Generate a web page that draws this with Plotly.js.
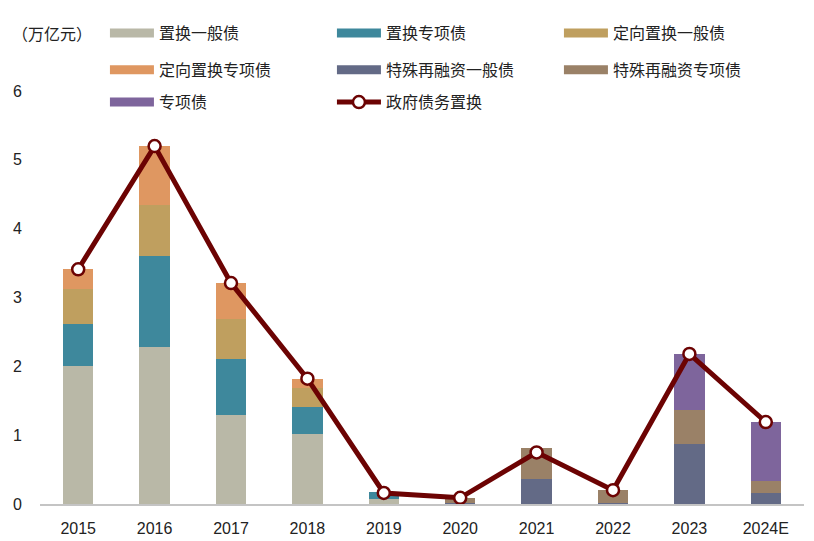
<!DOCTYPE html>
<html>
<head>
<meta charset="utf-8">
<script src="https://cdn.plot.ly/plotly-3.0.1.min.js"></script>
<style>html,body{margin:0;padding:0;background:#fff;}#chart{width:814px;height:541px;}</style>
</head>
<body>
<div id="chart"></div>
<script>
// Categories
const years = ['2015','2016','2017','2018','2019','2020','2021','2022','2023','2024E'];
// Stacked series (万亿元)
const zhihuanYiban      = [2.01, 2.28, 1.29, 1.02, 0.07, 0, 0, 0, 0, 0];          // 置换一般债
const zhihuanZhuanxiang = [0.60, 1.32, 0.82, 0.39, 0.10, 0, 0, 0, 0, 0];          // 置换专项债
const dingxiangYiban     = [0.51, 0.74, 0.58, 0.28, 0, 0, 0, 0, 0, 0];            // 定向置换一般债
const dingxiangZhuanxiang= [0.29, 0.86, 0.52, 0.13, 0, 0, 0, 0, 0, 0];            // 定向置换专项债
const teshuYiban        = [0, 0, 0, 0, 0, 0.02, 0.36, 0.02, 0.87, 0.16];          // 特殊再融资一般债
const teshuZhuanxiang   = [0, 0, 0, 0, 0, 0.07, 0.45, 0.18, 0.49, 0.17];          // 特殊再融资专项债
const zhuanxiangZhai    = [0, 0, 0, 0, 0, 0, 0, 0, 0.82, 0.86];                   // 专项债
// Line series
const zhengfuZhiwu      = [3.41, 5.20, 3.21, 1.82, 0.16, 0.09, 0.75, 0.20, 2.18, 1.19]; // 政府债务置换

const barSeries = [
  {name:'置换一般债', y:zhihuanYiban, color:'#b9b8a7', legend:'legend'},
  {name:'置换专项债', y:zhihuanZhuanxiang, color:'#3e889c', legend:'legend'},
  {name:'定向置换一般债', y:dingxiangYiban, color:'#bf9f5f', legend:'legend'},
  {name:'定向置换专项债', y:dingxiangZhuanxiang, color:'#df9761', legend:'legend2'},
  {name:'特殊再融资一般债', y:teshuYiban, color:'#636a86', legend:'legend2'},
  {name:'特殊再融资专项债', y:teshuZhuanxiang, color:'#9a8167', legend:'legend2'},
  {name:'专项债', y:zhuanxiangZhai, color:'#7e659c', legend:'legend3'}
];
const lineColor = '#6c0303';

const traces = [];
barSeries.forEach(s => {
  traces.push({type:'bar', x:years, y:s.y, name:s.name, showlegend:false,
    marker:{color:s.color, line:{width:0}}, width:0.4, hoverinfo:'x+y+name'});
});
// legend-only swatches
barSeries.forEach(s => {
  traces.push({type:'scatter', mode:'lines', x:[years[0]], y:[null], name:s.name,
    legend:s.legend, line:{color:s.color, width:9}, hoverinfo:'skip'});
});
traces.push({type:'scatter', mode:'lines+markers', x:years, y:zhengfuZhiwu, name:'政府债务置换',
  legend:'legend3', line:{color:lineColor, width:5},
  marker:{symbol:'circle', size:12, color:'#ffffff', line:{color:lineColor, width:2.5}}});

const cjk = '"Noto Sans CJK SC", "Noto Sans", sans-serif';
const latin = '"Liberation Sans", Arial, sans-serif';
const legBase = {orientation:'h', xanchor:'left', yanchor:'middle', x:0.085,
  entrywidth:168, entrywidthmode:'pixels', itemwidth:44, bgcolor:'rgba(0,0,0,0)',
  font:{family:cjk, size:16, color:'#222'}, traceorder:'normal'};

const layout = {
  width:814, height:541,
  margin:{l:40, r:10, t:91, b:37},
  paper_bgcolor:'#ffffff', plot_bgcolor:'#ffffff',
  barmode:'stack', showlegend:true,
  xaxis:{type:'category', range:[-0.5, 9.5], showgrid:false, zeroline:false,
    showline:true, linecolor:'#c4c4c4', linewidth:2, ticks:'',
    tickfont:{family:latin, size:16, color:'#222'}, ticklabelstandoff:9},
  yaxis:{range:[0,6], dtick:1, showgrid:false, zeroline:false, showline:false, ticks:'',
    tickfont:{family:latin, size:16, color:'#222'}, ticklabelstandoff:17},
  legend: Object.assign({}, legBase, {y:1.140}),
  legend2: Object.assign({}, legBase, {y:1.051}),
  legend3: Object.assign({}, legBase, {y:0.973}),
  annotations:[{text:'（万亿元）', xref:'paper', yref:'paper', x:-0.039, y:1.140,
    xanchor:'left', yanchor:'middle', showarrow:false, font:{family:cjk, size:16, color:'#222'}}]
};

Plotly.newPlot('chart', traces, layout, {displayModeBar:false, staticPlot:true});
</script>
</body>
</html>
